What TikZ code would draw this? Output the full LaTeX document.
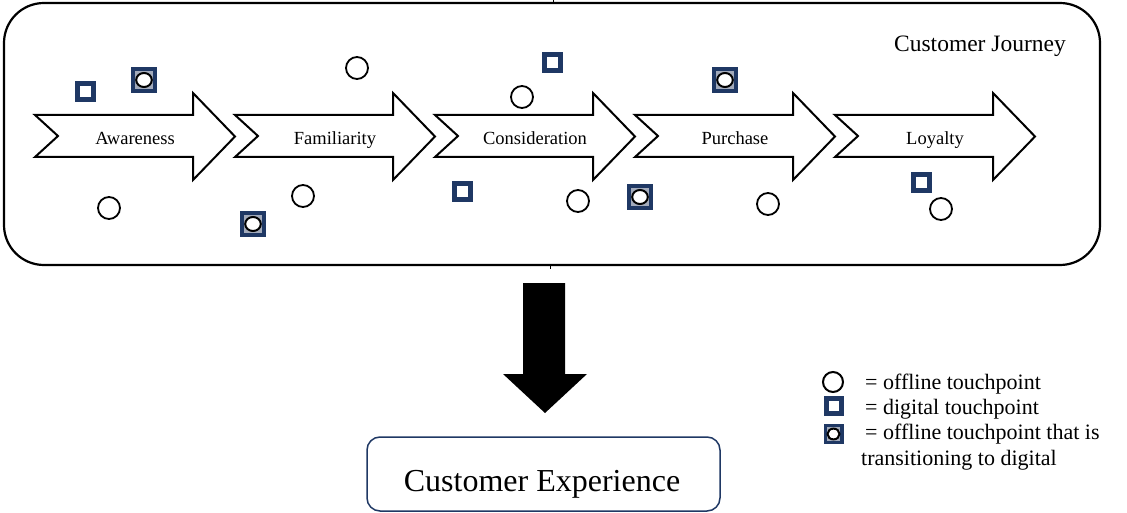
\documentclass[tikz,border=0pt]{standalone}
\usepackage{fontspec}
\setmainfont{Liberation Serif}
\usetikzlibrary{calc}
\definecolor{navy}{HTML}{1F3864}
\definecolor{mist}{HTML}{A3ABBB}
\begin{document}
\begin{tikzpicture}[x=1pt,y=-1pt,
  offline/.style={circle, draw=black, line width=1.8pt, fill=white,
    minimum size=#1, inner sep=0pt},
  offline/.default=22pt,
  digital/.style={rectangle, draw=navy, line width=5pt, fill=white,
    minimum size=#1, inner sep=0pt},
  digital/.default=16pt,
  shifting/.style={rectangle, fill=navy, inner sep=0pt, minimum size=#1,
    path picture={
      \fill[mist] ($(path picture bounding box.south west)!0.17!(path picture bounding box.north east)$)
        rectangle ($(path picture bounding box.south west)!0.83!(path picture bounding box.north east)$);
      \draw[line width=2pt, fill=white] (path picture bounding box.center)
        ellipse [x radius=0.3*#1, y radius=0.27*#1];}},
  shifting/.default=26pt,
  stagearrow/.style={draw=black, line width=2pt, fill=white, line join=miter},
  stagelabel/.style={anchor=base, inner sep=0pt, font=\fontsize{18.5}{22}\selectfont},
  legendtext/.style={anchor=base west, inner sep=0pt, font=\fontsize{22}{26}\selectfont}]
\useasboundingbox (0,0) rectangle (1127,513);

% journey frame
\node[draw=black, line width=2.2pt, rounded corners=40pt, minimum width=1096pt,
  minimum height=262pt, inner sep=0pt] (journey) at (552,134) {};
\draw[line width=1pt] (553,0) -- (553,3);
\draw[line width=1pt] (550,265) -- (550,269);
\node[anchor=base, inner sep=0pt, font=\fontsize{23.5}{28}\selectfont] (jtitle) at (980,52) {Customer Journey};

% the five stages
\foreach \name [count=\i from 0] in {Awareness,Familiarity,Consideration,Purchase,Loyalty} {
  \pgfmathsetmacro{\xs}{35+200*\i}
  \draw[stagearrow] (\xs,115) -- (\xs+158,115) -- (\xs+158,93) -- (\xs+200,136.5)
    -- (\xs+158,180) -- (\xs+158,157) -- (\xs,157) -- (\xs+23,136) -- cycle;
  \node[stagelabel] (stage\i) at (\xs+100,145) {\name};
}

% touchpoints along the journey
\node[digital]  (d1) at (85,92) {};
\node[shifting] (s1) at (144,80) {};
\node[offline]  (o1) at (357,68) {};
\node[offline]  (o2) at (109,208) {};
\node[offline]  (o3) at (303,196) {};
\node[shifting] (s2) at (253,224) {};
\node[digital]  (d2) at (552,63) {};
\node[offline]  (o4) at (522,97) {};
\node[digital]  (d3) at (462,192) {};
\node[offline]  (o5) at (578,201) {};
\node[shifting] (s3) at (725,80) {};
\node[shifting] (s4) at (640,197) {};
\node[offline]  (o6) at (768,204) {};
\node[digital]  (d4) at (921,183) {};
\node[offline]  (o7) at (941,209) {};

% block arrow down to the outcome
\fill[black] (523,283) -- (565,283) -- (565,374) -- (587,374) -- (545,413)
  -- (503,374) -- (523,374) -- cycle;

% outcome box
\node[draw=navy, line width=1.5pt, rounded corners=13pt, minimum width=353pt,
  minimum height=74pt, inner sep=0pt] (cx) at (543.5,474) {};
\node[anchor=base, inner sep=0pt, font=\fontsize{32}{38}\selectfont] (cxtext) at (542,491) {Customer Experience};

% legend
\node[offline=20pt, line width=2pt] (lo) at (833,382) {};
\node[digital=15pt] (ld) at (833.5,406) {};
\node[shifting=20pt] (ls) at (833.5,434) {};
\node[legendtext] (lt1) at (865,389) {= offline touchpoint};
\node[legendtext] (lt2) at (865,414) {= digital touchpoint};
\node[legendtext] (lt3) at (865,439) {= offline touchpoint that is};
\node[legendtext] (lt4) at (861,465) {transitioning to digital};
\end{tikzpicture}
\end{document}
